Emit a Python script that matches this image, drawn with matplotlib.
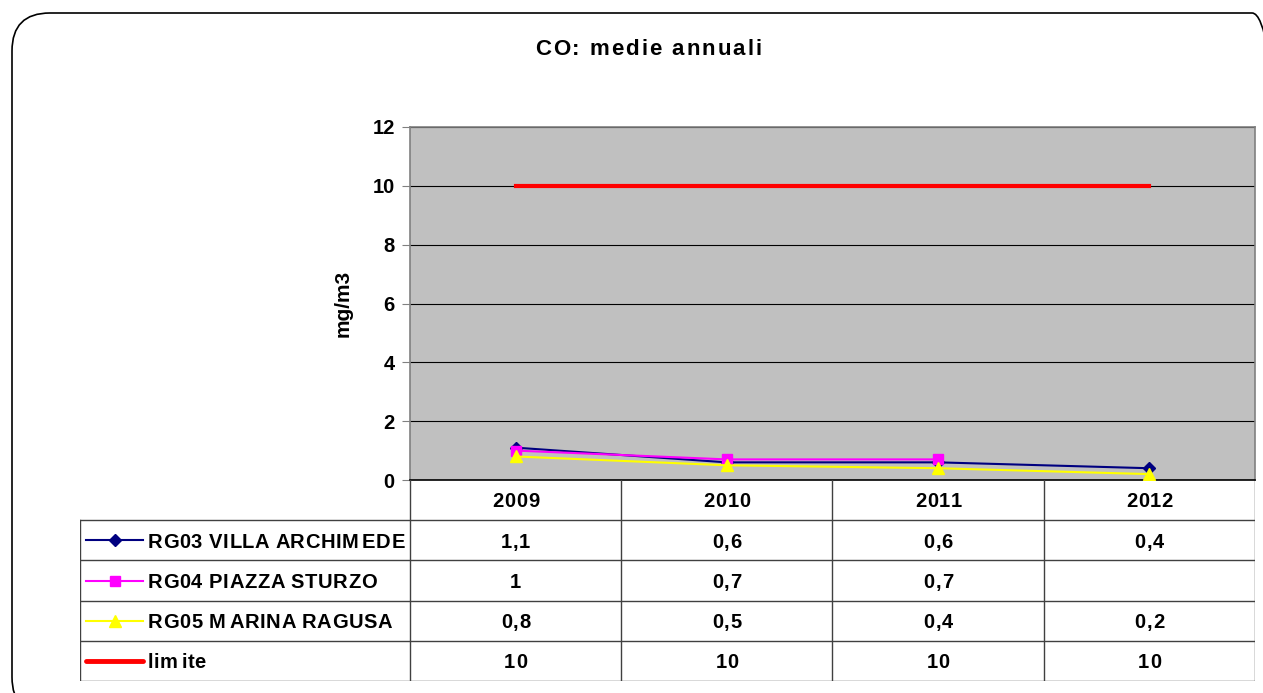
import numpy as np
import matplotlib
matplotlib.use("Agg")
import matplotlib.pyplot as plt
from matplotlib.patches import FancyBboxPatch
from matplotlib.transforms import IdentityTransform
from matplotlib.font_manager import FontProperties

plt.rcParams['font.family'] = ['Liberation Sans', 'DejaVu Sans']
plt.rcParams['font.weight'] = 'bold'

years = ['2009', '2010', '2011', '2012']
series_names = ['RG03 VILLA ARCHIMEDE', 'RG04 PIAZZA STURZO', 'RG05 MARINA RAGUSA', 'limite']
rg03 = [1.1, 0.6, 0.6, 0.4]
rg04 = [1.0, 0.7, 0.7, np.nan]
rg05 = [0.8, 0.5, 0.4, 0.2]
limite = [10, 10, 10, 10]
colors = ['#000080', '#FF00FF', '#FFFF00', '#FF0000']
markers = ['D', 's', '^', None]
msizes = [6, 7, 8, 0]

W, H = 1263, 693
fig = plt.figure(figsize=(W / 100, H / 100), dpi=100)
renderer = fig.canvas.get_renderer()


def fx(px):
    return px / W


def fy(py):
    return 1 - py / H


def text_w(s, prop):
    w, h, d = renderer.get_text_width_height_descent(s, prop, ismath=False)
    return w


def advance(s, prop):
    # width of string up to where the next glyph would start
    if not s:
        return 0.0
    return text_w(s + 'l', prop) - text_w('l', prop)


def spaced_text(xd, yd, s, size, spacing, ha='center', mgap=0.0):
    # letter-spaced text, xd/yd in display pixels, yd = vertical centre
    prop = FontProperties(family=['Liberation Sans'], weight='bold', size=size)
    offs = []
    extra = 0.0
    for i, ch in enumerate(s):
        offs.append(advance(s[:i], prop) + i * spacing + extra)
        if ch in 'Mm':
            extra += mgap
    total = advance(s, prop) + (len(s) - 1) * spacing + extra
    if ha == 'center':
        x0 = xd - total / 2
    elif ha == 'right':
        x0 = xd - total
    else:
        x0 = xd
    cap = 0.716 * size * 100 / 72
    for ch, o in zip(s, offs):
        if ch == ' ':
            continue
        fig.text(x0 + o, yd - cap / 2, ch, transform=IdentityTransform(),
                 fontproperties=prop, ha='left', va='baseline')


# rounded outer frame
frame = FancyBboxPatch((fx(12), fy(715)), fx(1290 - 12), fy(13) - fy(715),
                       boxstyle="round,pad=0,rounding_size=0.03",
                       transform=fig.transFigure, fill=False, edgecolor='black',
                       linewidth=1.2, mutation_aspect=W / H)
fig.add_artist(frame)

# main plot area
ax = fig.add_axes([fx(410), fy(480), fx(1255 - 410), fy(127) - fy(480)])
ax.set_facecolor('#C0C0C0')
x = np.arange(len(years))
all_series = [rg03, rg04, rg05, limite]
for vals, c, m, ms in zip(all_series, colors, markers, msizes):
    if m is None:
        ax.plot(x, vals, color=c, linewidth=3, zorder=3)
    else:
        ax.plot(x, vals, color=c, linewidth=1.5, marker=m, markersize=ms,
                markeredgecolor=c, zorder=3)

ax.set_xlim(-0.5, len(years) - 0.5)
ax.set_ylim(0, 12)
ax.set_yticks(np.arange(0, 13, 2))
ax.yaxis.grid(True, color='black', linewidth=0.8)
ax.set_axisbelow(True)
ax.set_xticks([])
ax.tick_params(axis='y', length=6, color='#808080', labelsize=14.5, pad=5)
for lbl in ax.get_yticklabels():
    lbl.set_fontweight('bold')
for s in ax.spines.values():
    s.set_color('#808080')
    s.set_linewidth(1.2)
ax.spines['bottom'].set_color('black')
ax.set_ylabel('mg/m3', fontsize=15, fontweight='bold', labelpad=14)

spaced_text(648, H - 47, 'CO: medie annuali', 16, 2.0)

# data table under the chart
label_w = (410 - 80) / ((1255 - 410) / len(years))
tax = fig.add_axes([fx(80), fy(681), fx(1255 - 80), fy(480) - fy(681)])
left = -0.5 - label_w
right = len(years) - 0.5
tax.set_xlim(left, right)
tax.set_ylim(5, 0)
tax.axis('off')
lc = '#404040'
for r in range(1, 6):
    tax.plot([left, right], [r, r], color=lc, linewidth=1)
tax.plot([left, left], [1, 5], color=lc, linewidth=1)
for i in range(len(years) + 1):
    tax.plot([i - 0.5, i - 0.5], [0, 5], color=lc, linewidth=1)


def cell_xy(xv, yv):
    return tax.transData.transform((xv, yv))


for i, yr in enumerate(years):
    px, py = cell_xy(i, 0.5)
    spaced_text(px, py, yr, 14.5, 0.8)

for r, (name, vals, c, m, ms) in enumerate(zip(series_names, all_series, colors, markers, msizes)):
    yy = r + 1.5
    sx0 = left + 0.03
    sx1 = left + 0.3
    if m is None:
        tax.plot([sx0, sx1], [yy, yy], color=c, linewidth=3.5, solid_capstyle='round')
    else:
        tax.plot([sx0, sx1], [yy, yy], color=c, linewidth=1.5)
        tax.plot([(sx0 + sx1) / 2], [yy], marker=m, color=c, markersize=ms)
    px, py = cell_xy(left + 0.32, yy)
    spaced_text(px, py, name, 14.5, 0.6, ha='left', mgap=3.0)
    for i, v in enumerate(vals):
        if not np.isnan(v):
            txt = ('%g' % v).replace('.', ',')
            px, py = cell_xy(i, yy)
            spaced_text(px, py, txt, 14.5, 0.8)

fig.savefig('out.png', dpi=100)
